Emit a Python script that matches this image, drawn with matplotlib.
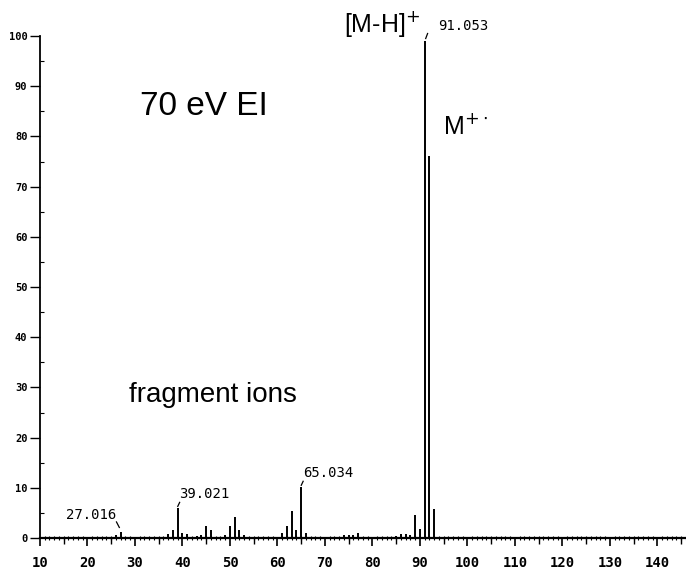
import matplotlib
matplotlib.use("Agg")
import matplotlib.pyplot as plt
from matplotlib.ticker import MultipleLocator

# m/z and relative intensity
mz = [26, 27, 28, 37, 38, 39, 40, 41, 43, 44, 45, 46, 49, 50, 51, 52, 53,
      61, 62, 63, 64, 65, 66, 74, 75, 76, 77, 85, 86, 87, 88, 89, 90, 91, 92, 93]
intensity = [0.5, 1.2, 0.3, 0.8, 1.5, 6.0, 1.0, 0.7, 0.4, 0.6, 2.4, 1.5, 0.6, 2.4, 4.2, 1.5, 0.6,
             1.0, 2.4, 5.4, 1.5, 10.2, 1.0, 0.5, 0.6, 0.5, 1.0, 0.4, 0.8, 0.8, 0.5, 4.6, 1.8, 99, 76, 5.8]

# labelled peaks: (m/z, accurate mass text)
peak_labels = [(27, "27.016"), (39, "39.021"), (65, "65.034"), (91, "91.053")]

xticks = list(range(10, 150, 10))
yticks = list(range(0, 110, 10))

mono = "DejaVu Sans Mono"
sans = "Liberation Sans"

fig = plt.figure(figsize=(6.86, 5.79), dpi=100)
ax = fig.add_axes([0.0583, 0.0708, 0.9417, 0.867])

ax.vlines(mz, 0, intensity, color="black", linewidth=1.4)

ax.set_xlim(10, 146)
ax.set_ylim(0, 100)

for s in ["top", "right"]:
    ax.spines[s].set_visible(False)
ax.spines["left"].set_linewidth(1.3)
ax.spines["bottom"].set_linewidth(1.6)

ax.set_xticks(xticks)
ax.set_yticks(yticks)
ax.xaxis.set_minor_locator(MultipleLocator(1))
ax.yaxis.set_minor_locator(MultipleLocator(5))
ax.tick_params(axis="x", which="major", direction="out", length=6, width=1.2, pad=7)
ax.tick_params(axis="x", which="minor", direction="inout", length=3, width=0.8)
ax.tick_params(axis="y", which="major", direction="out", length=7, width=1.0, pad=2)
ax.tick_params(axis="y", which="minor", direction="in", length=3, width=0.8)
for lab in ax.get_xticklabels():
    lab.set_fontfamily(mono)
    lab.set_fontsize(10)
    lab.set_fontweight("bold")
for lab in ax.get_yticklabels():
    lab.set_fontfamily(mono)
    lab.set_fontsize(7.5)
    lab.set_fontweight("bold")

# medium ticks every 5 on the mass axis
sec = ax.secondary_xaxis(0)
sec.set_xticks(list(range(15, 150, 10)))
sec.tick_params(length=4, width=1.0, labelbottom=False)
sec.spines["bottom"].set_visible(False)

# peak annotations
for m, txt in peak_labels:
    h = intensity[mz.index(m)]
    if m == 27:
        ax.plot([m - 0.9, m - 0.3], [h + 2.0, h + 0.9], color="black", linewidth=0.9)
        ax.text(m - 0.9, h + 3.4, txt, fontsize=10, family=mono, ha="right", va="center")
    elif m == 91:
        ax.plot([m + 0.2, m + 0.6], [h + 0.5, h + 1.5], color="black", linewidth=0.9, clip_on=False)
        ax.text(m + 2.8, h + 3.0, txt, fontsize=10, family=mono, ha="left", va="center", clip_on=False)
    else:
        ax.plot([m, m + 0.4], [h + 0.3, h + 1.1], color="black", linewidth=0.9)
        ax.text(m + 0.3, h + 1.4, txt, fontsize=10, family=mono, ha="left", va="bottom")

ax.text(44.5, 86, "70 eV EI", fontsize=24, family=sans, ha="center", va="center")
ax.text(46.5, 28.5, "fragment ions", fontsize=20, family=sans, ha="center", va="center")
ax.text(82, 102.3, r"[M-H]$^{+}$", fontsize=18, family=sans, ha="center", va="center", clip_on=False)
ax.text(94.8, 82, r"M$^{+\cdot}$", fontsize=18, family=sans, ha="left", va="center")

fig.savefig("out.png", dpi=100)
